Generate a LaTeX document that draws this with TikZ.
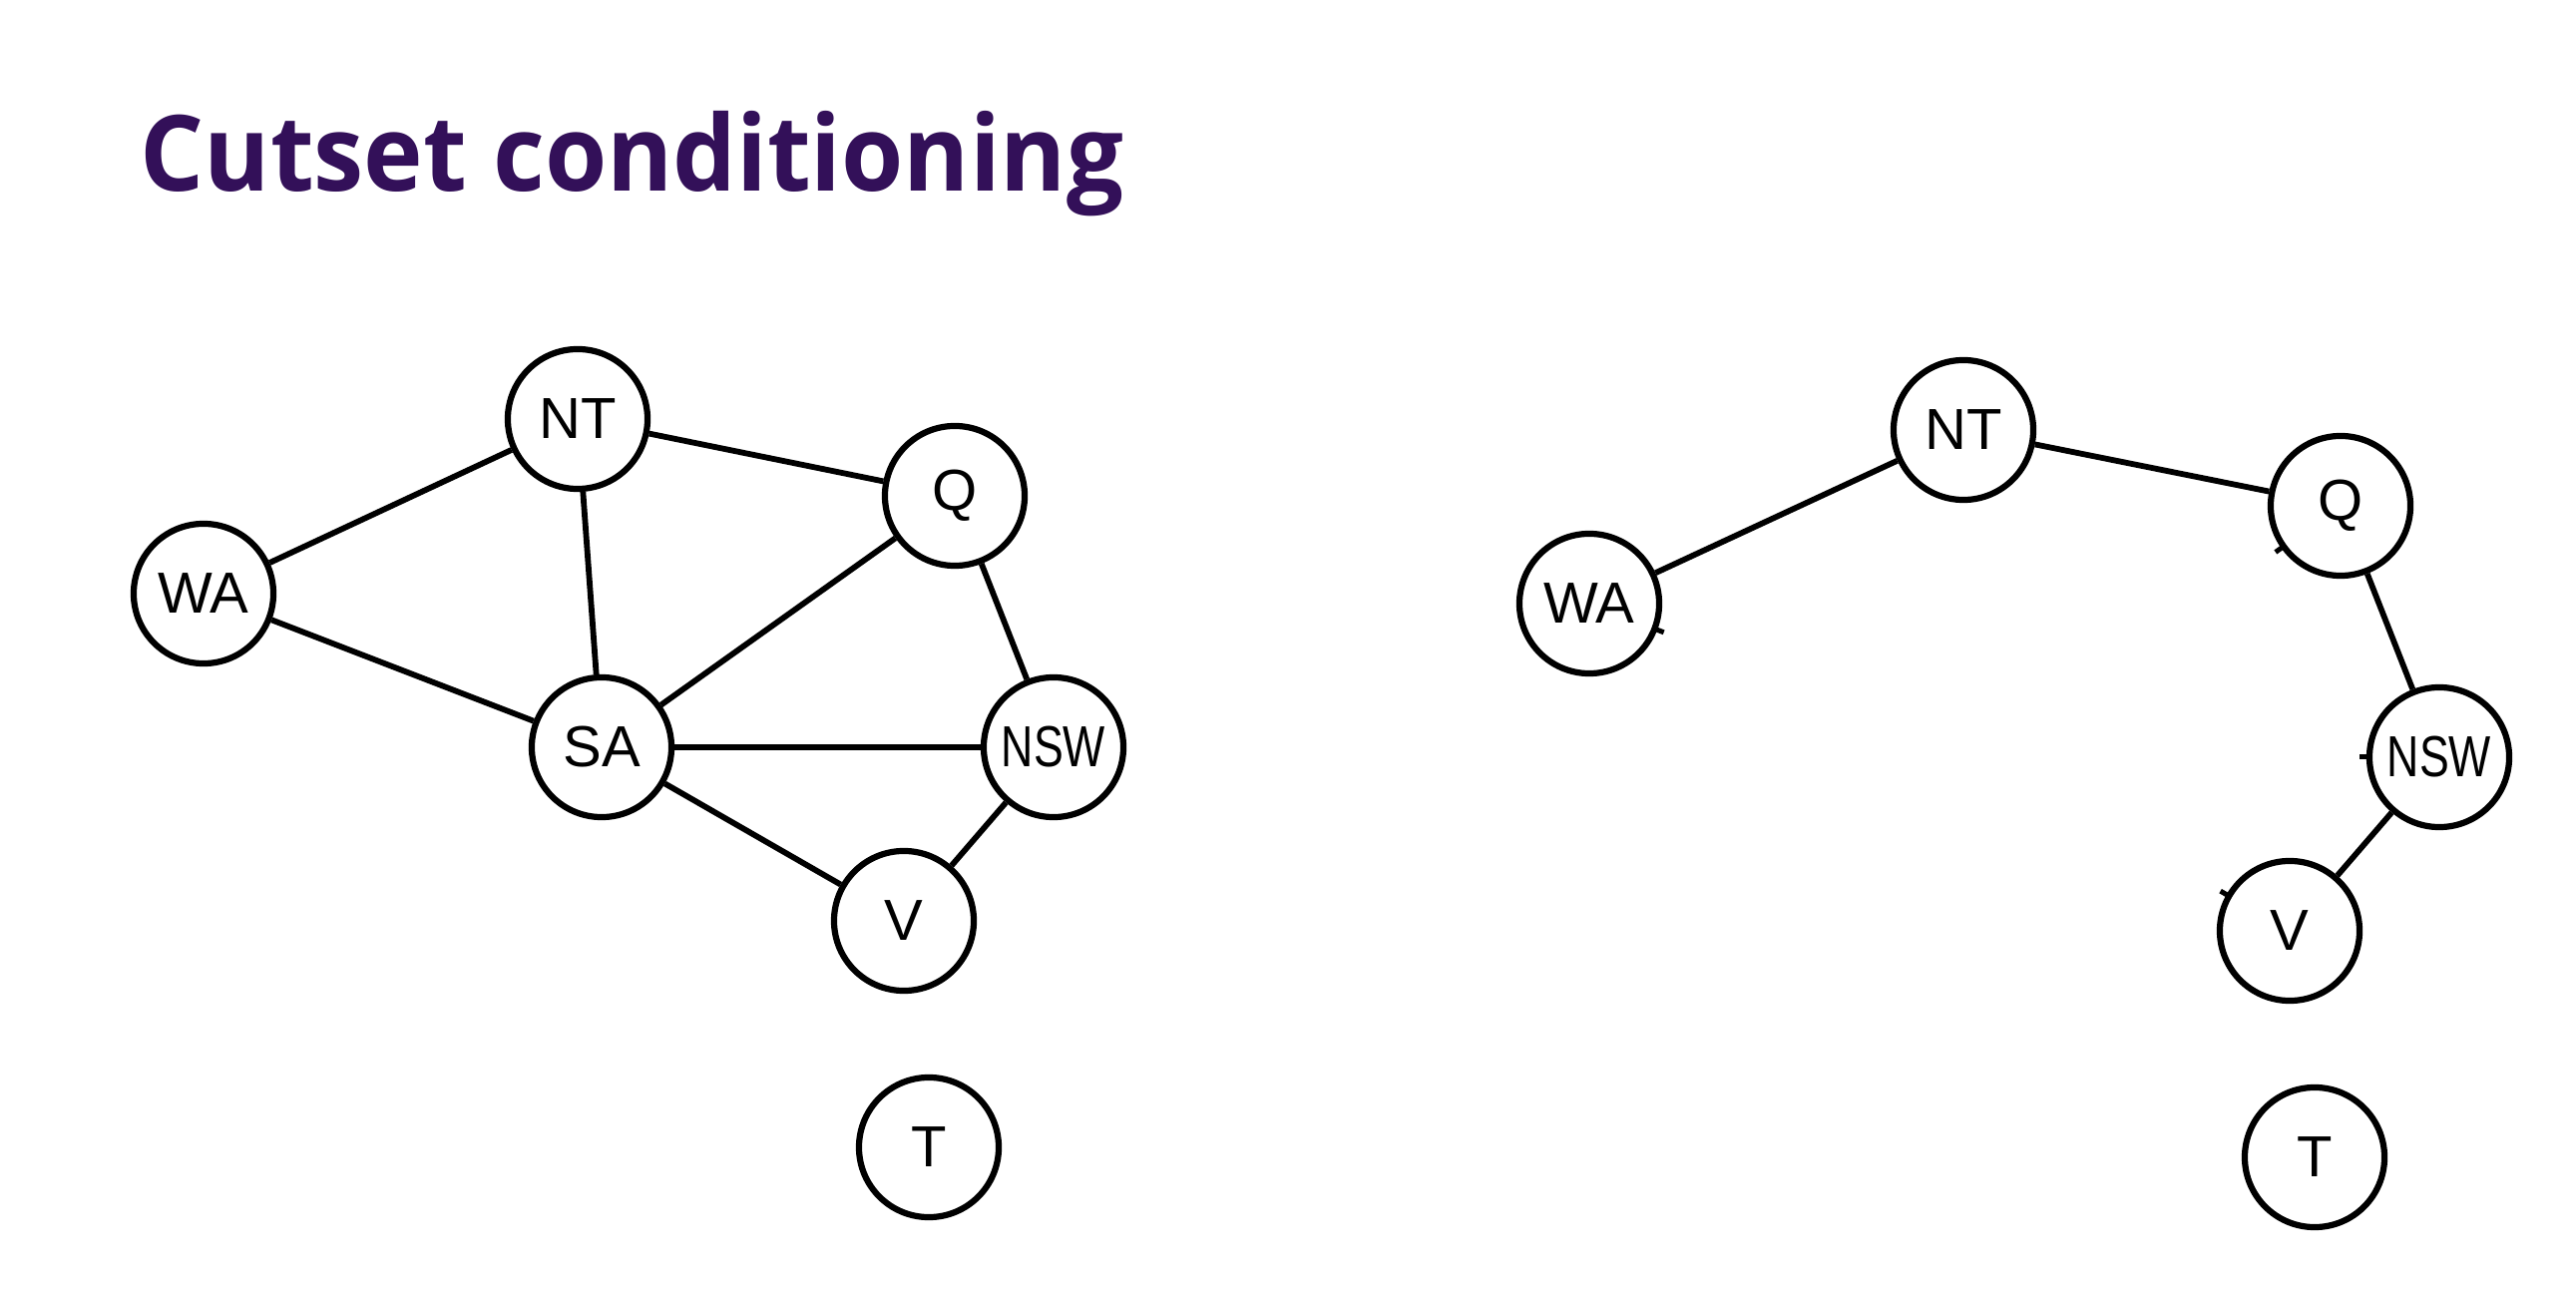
\documentclass[tikz,border=0pt]{standalone}
\usepackage{fontspec}
\setmainfont{Liberation Sans}
\newfontfamily\titlefont{Open Sans}
\usetikzlibrary{calc}
\definecolor{titlecol}{RGB}{51,16,89}
\begin{document}
\begin{tikzpicture}[x=0.01cm,y=-0.01cm,
  state/.style={circle,draw=black,line width=0.062cm,minimum size=1.4cm,inner sep=0pt,font=\fontsize{16.5}{18}\selectfont},
  edge/.style={line width=0.058cm,black},
  stub/.style={line width=0.05cm,black}]
\useasboundingbox (0,0) rectangle (2582,1292);
\node[anchor=base west,inner sep=0pt,text=titlecol,font=\titlefont\bfseries\fontsize{30}{34}\selectfont] (title) at (140,192) {\scalebox{0.955}[1]{Cutset conditioning}};
% left graph
\node[state] (NT) at (579,420) {NT};
\node[state] (Q) at (957,497) {Q};
\node[state] (WA) at (204,595) {WA};
\node[state] (SA) at (603,749) {SA};
\node[state] (NSW) at (1056,749) {\scalebox{0.77}[1]{NSW}};
\node[state] (V) at (906,923) {V};
\node[state] (T) at (931,1150) {T};
\draw[edge] (WA) -- (NT);
\draw[edge] (WA) -- (SA);
\draw[edge] (NT) -- (Q);
\draw[edge] (NT) -- (SA);
\draw[edge] (Q) -- (SA);
\draw[edge] (Q) -- (NSW);
\draw[edge] (SA) -- (NSW);
\draw[edge] (SA) -- (V);
\draw[edge] (NSW) -- (V);
% right graph
\coordinate (SAr) at (1992,759);
\node[state] (NTr) at (1968,431) {NT};
\node[state] (Qr) at (2346,507) {Q};
\node[state] (WAr) at (1593,605) {WA};
\node[state] (NSWr) at (2445,759) {\scalebox{0.77}[1]{NSW}};
\node[state] (Vr) at (2295,933) {V};
\node[state] (Tr) at (2320,1160) {T};
\draw[edge] (WAr) -- (NTr);
\draw[edge] (NTr) -- (Qr);
\draw[edge] (Qr) -- (NSWr);
\draw[edge] (NSWr) -- (Vr);
\foreach \n in {WAr,Qr,NSWr,Vr}{
  \draw[stub] ($(\n)!0.68cm!(SAr)$) -- ($(\n)!0.8cm!(SAr)$);
}
\end{tikzpicture}
\end{document}
